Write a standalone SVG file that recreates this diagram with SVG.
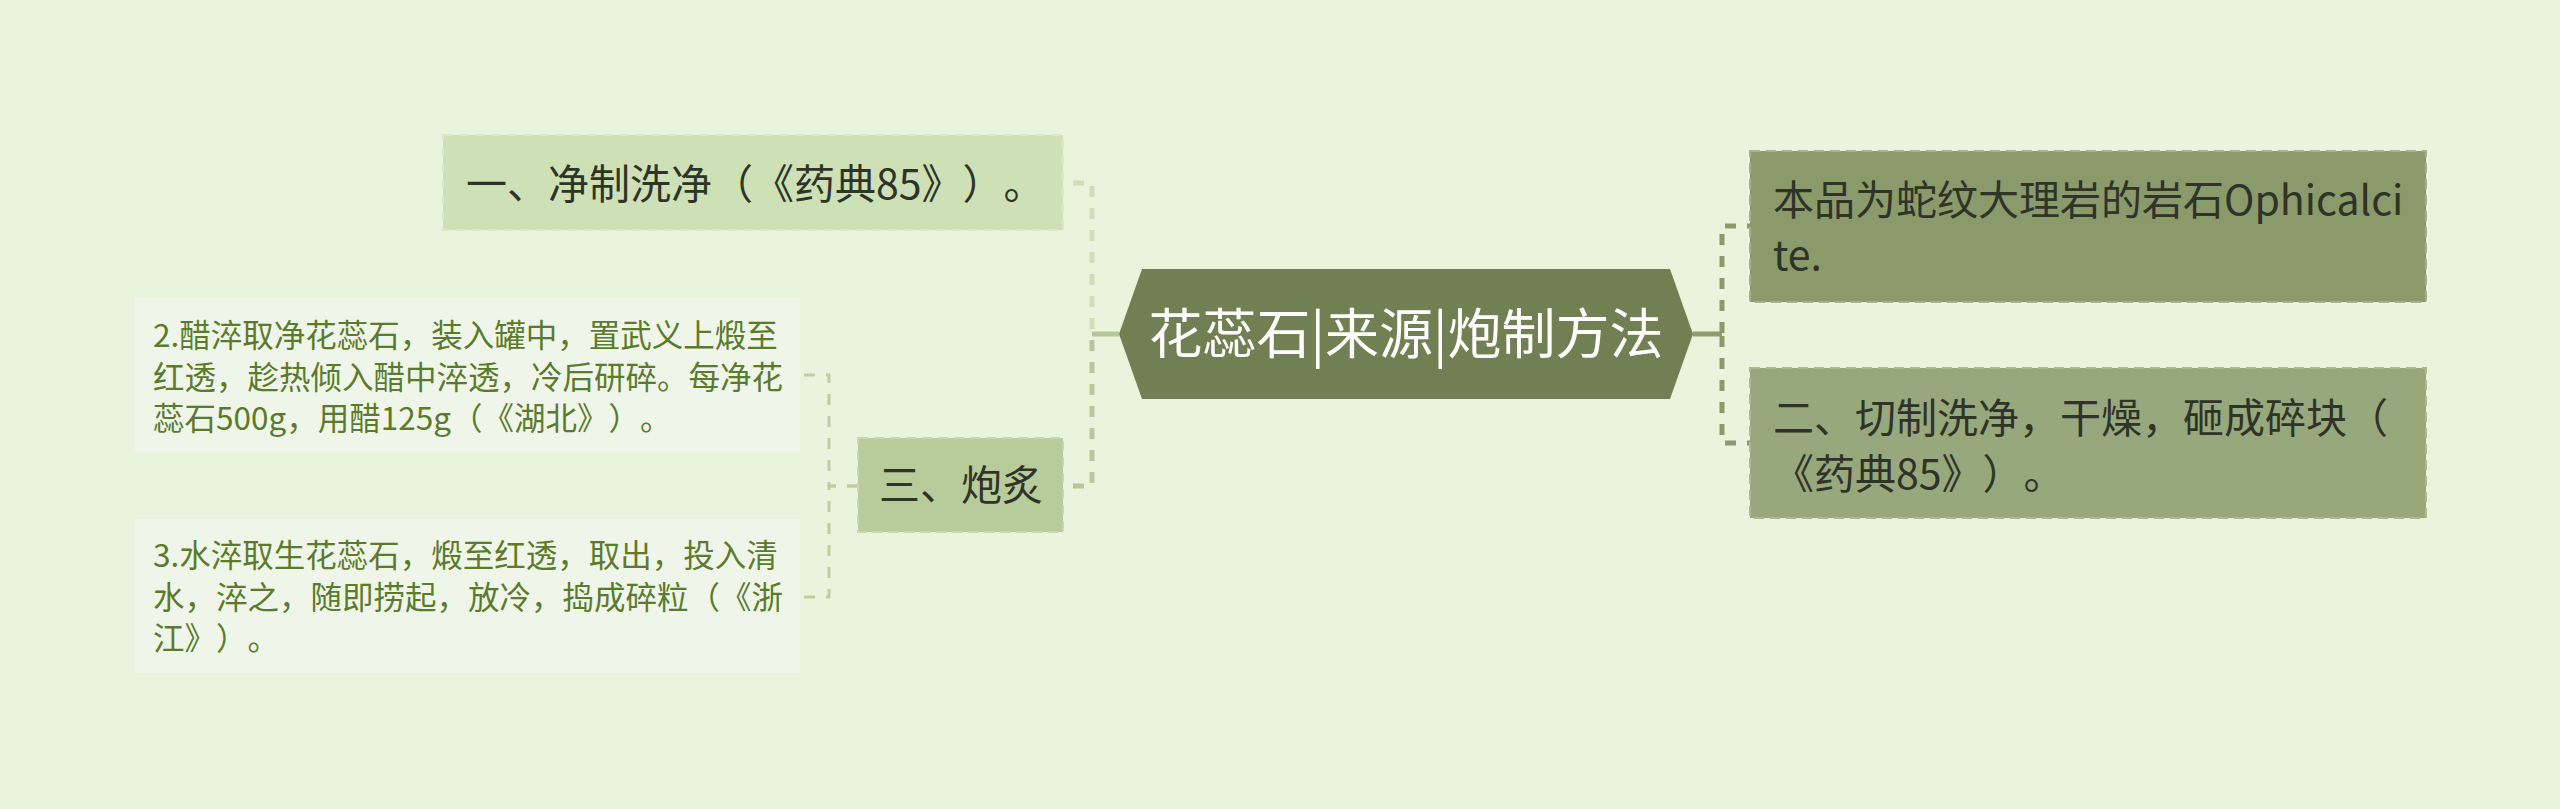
<svg xmlns="http://www.w3.org/2000/svg" width="2560" height="809" viewBox="0 0 2560 809">
<style>
text{font-family:"Noto Sans CJK SC","Noto Sans",sans-serif;text-spacing-trim:space-all;font-feature-settings:"chws" 0,"halt" 0;}
.n{font-size:41px;fill:#2f3328;}
.leaf{font-size:31.5px;fill:#5a7b2b;}
.conn{fill:none;stroke-width:5;}
.dash{stroke-dasharray:11 11;}
.bd{stroke-width:2;stroke-dasharray:10 6;}
</style>
<rect x="0" y="0" width="2560" height="809" fill="#e8f5dc"/>
<g id="connectors">
<path class="conn" d="M1119,334 H1092" stroke="#b3c797"/>
<path class="conn dash" d="M1063,183 H1092 V334" stroke="#cddfb6" stroke-dashoffset="12"/>
<path class="conn dash" d="M1063,486 H1092 V334" stroke="#b5c89a" stroke-dashoffset="12"/>
<path class="conn" d="M1693,334 H1722" stroke="#8d9d6e"/>
<path class="conn dash" d="M1750,226 H1722 V334" stroke="#8a9a6a" stroke-dashoffset="8"/>
<path class="conn dash" d="M1750,443 H1722 V334" stroke="#8a9a6a" stroke-dashoffset="8"/>
<path fill="none" stroke="#bccfa2" stroke-width="3" stroke-dasharray="11 11" d="M858,486 H829 V375 H800"/>
<path fill="none" stroke="#bccfa2" stroke-width="3" stroke-dasharray="11 11" d="M858,486 H829 V597 H800"/>
</g>
<g id="root">
<polygon points="1119,334 1142,269 1670,269 1693,334 1670,399 1142,399" fill="#718052"/>
<text x="1406" y="354" font-size="54" fill="#ffffff" text-anchor="middle">花蕊石|来源|炮制方法</text>
</g>
<g id="node-jingzhi">
<rect class="bd" x="443" y="135" width="620" height="95" fill="#cde0b6" stroke="#dbe8ca"/>
<text class="n" x="466" y="199">一、净制洗净（《药典85》）。</text>
</g>
<g id="node-paozhi">
<rect class="bd" x="858" y="438" width="205" height="94" fill="#b7cb9b" stroke="#c7d8b0"/>
<text class="n" x="879" y="500">三、炮炙</text>
</g>
<g id="leaf-cucui">
<rect x="135" y="298" width="665" height="154" fill="#f0f5e9"/>
<text class="leaf" x="153" y="347">2.醋淬取净花蕊石，装入罐中，置武义上煅至</text>
<text class="leaf" x="153" y="388.5">红透，趁热倾入醋中淬透，冷后研碎。每净花</text>
<text class="leaf" x="153" y="430">蕊石500g，用醋125g（《湖北》）。</text>
</g>
<g id="leaf-shuicui">
<rect x="135" y="519" width="665" height="154" fill="#f0f5e9"/>
<text class="leaf" x="153" y="567">3.水淬取生花蕊石，煅至红透，取出，投入清</text>
<text class="leaf" x="153" y="608.5">水，淬之，随即捞起，放冷，捣成碎粒（《浙</text>
<text class="leaf" x="153" y="650">江》）。</text>
</g>
<g id="node-source">
<rect class="bd" x="1750" y="151" width="676" height="151" fill="#8a9a6b" stroke="#a3b387"/>
<text class="n" x="1773" y="215">本品为蛇纹大理岩的岩石Ophicalci</text>
<text class="n" x="1773" y="270">te.</text>
</g>
<g id="node-qiezhi">
<rect class="bd" x="1750" y="368" width="676" height="150" fill="#97a87c" stroke="#abbb90"/>
<text class="n" x="1773" y="433">二、切制洗净，干燥，砸成碎块（</text>
<text class="n" x="1773" y="489">《药典85》）。</text>
</g>
</svg>
